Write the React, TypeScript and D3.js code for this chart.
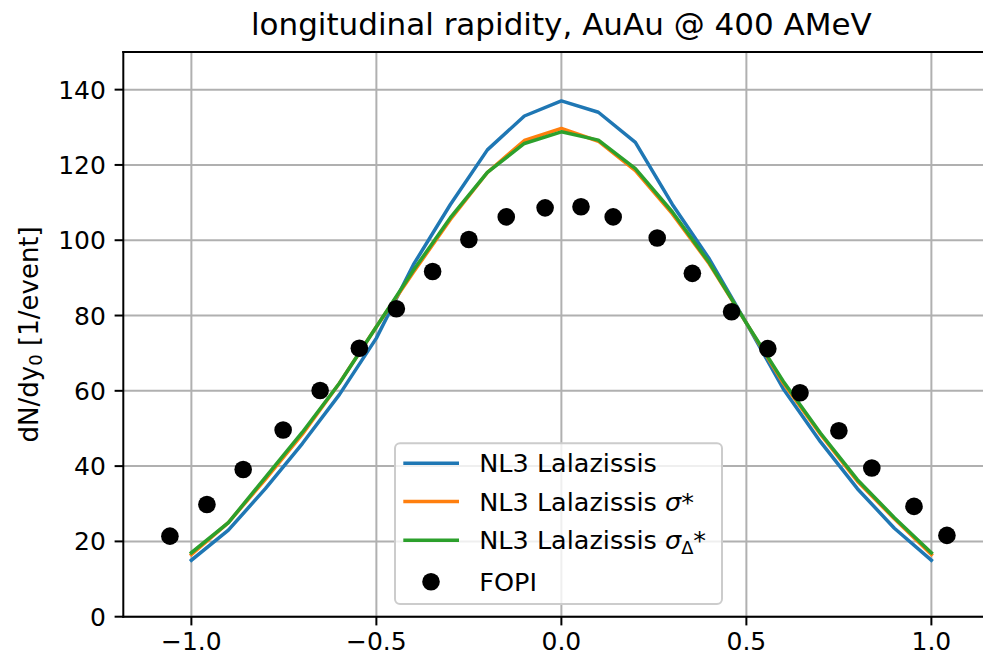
import React from "react";
import * as d3 from "d3";

const xLine = [-1.0, -0.9, -0.8, -0.7, -0.6, -0.5, -0.4, -0.3, -0.2, -0.1, 0.0, 0.1, 0.2, 0.3, 0.4, 0.5, 0.6, 0.7, 0.8, 0.9, 1.0];
const nl3 = [15, 23, 34, 46, 59, 74, 93.5, 109.5, 124, 133, 137, 134, 126, 109.5, 95, 78, 60.5, 46.5, 34, 23.5, 15];
const nl3Sigma = [16.5, 25, 36.5, 48.5, 62, 77, 91.5, 105.5, 118, 126.5, 129.7, 126.3, 118.5, 107, 93.7, 78, 62, 48.5, 36, 26, 16.5];
const nl3SigmaDelta = [17, 25, 37, 49, 62, 77, 92, 106, 118, 125.7, 128.8, 126.6, 119, 107.5, 94, 78, 62.5, 48.8, 36.4, 26.3, 17];

const fopiX = [-1.058, -0.958, -0.86, -0.752, -0.652, -0.546, -0.446, -0.348, -0.25, -0.149, -0.044, 0.053, 0.14, 0.259, 0.354, 0.46, 0.558, 0.645, 0.75, 0.839, 0.953, 1.042];
const fopiY = [21.4, 29.8, 39.1, 49.6, 60.1, 71.3, 81.8, 91.7, 100.2, 106.2, 108.6, 108.9, 106.2, 100.6, 91.2, 81.0, 71.2, 59.5, 49.4, 39.5, 29.3, 21.6];

const xTicks = [-1.0, -0.5, 0.0, 0.5, 1.0];
const yTicks = [0, 20, 40, 60, 80, 100, 120, 140];

const colors = ["#1f77b4", "#ff7f0e", "#2ca02c"];

const W = 983;
const H = 657;
const left = 123.3;
const top = 52;
const bottom = 616.7;
const xMin = -1.184;
const xMax = 1.184;
const right = left + (xMax - xMin) * 370;

const FONT = "DejaVu Sans, sans-serif";
const FS = 25;

export default function App() {
  const x = d3.scaleLinear().domain([xMin, xMax]).range([left, right]);
  const y = d3.scaleLinear().domain([0, 150]).range([bottom, top]);
  const line = d3
    .line<number>()
    .x((_, i) => x(xLine[i]))
    .y((d) => y(d));
  const fmt = d3.format(".1f");
  const series = [nl3, nl3Sigma, nl3SigmaDelta];
  const tickLen = 8.7;
  const pad = 8.7;

  const legX = 395;
  const legY = 443.3;
  const legW = 327;
  const legH = 160.7;
  const rows = [463.3, 501.5, 540.3, 581.7];
  const LFS = 25.5;

  return (
    <svg
      width={W}
      height={H}
      style={{ position: "absolute", left: 0, top: 0, background: "#fff" }}
      fontFamily={FONT}
    >
      <defs>
        <clipPath id="plotclip">
          <rect x={left} y={top} width={right - left} height={bottom - top} />
        </clipPath>
      </defs>
      <rect x={0} y={0} width={W} height={H} fill="#fff" />
      {/* grid */}
      <g stroke="#b0b0b0" strokeWidth={2}>
        {xTicks.map((t) => (
          <line key={"gx" + t} x1={x(t)} x2={x(t)} y1={top} y2={bottom} />
        ))}
        {yTicks.map((t) => (
          <line key={"gy" + t} x1={left} x2={right} y1={y(t)} y2={y(t)} />
        ))}
      </g>
      {/* lines */}
      <g clipPath="url(#plotclip)" fill="none" strokeWidth={3.5} strokeLinejoin="round" strokeLinecap="square">
        {series.map((s, i) => (
          <path key={i} d={line(s) || ""} stroke={colors[i]} />
        ))}
      </g>
      {/* scatter */}
      <g fill="#000">
        {fopiX.map((v, i) => (
          <circle key={i} cx={x(v)} cy={y(fopiY[i])} r={8.8} />
        ))}
      </g>
      {/* spines */}
      <g stroke="#000" strokeWidth={2} fill="none">
        <line x1={left} x2={left} y1={top - 1} y2={bottom + 1} />
        <line x1={left - 1} x2={right} y1={bottom} y2={bottom} />
        <line x1={left - 1} x2={right} y1={top} y2={top} />
        <line x1={right} x2={right} y1={top} y2={bottom} />
      </g>
      {/* ticks */}
      <g stroke="#000" strokeWidth={2}>
        {xTicks.map((t) => (
          <line key={"tx" + t} x1={x(t)} x2={x(t)} y1={bottom} y2={bottom + tickLen} />
        ))}
        {yTicks.map((t) => (
          <line key={"ty" + t} x1={left - tickLen} x2={left} y1={y(t)} y2={y(t)} />
        ))}
      </g>
      <g fontSize={FS} fill="#000">
        {xTicks.map((t) => (
          <text key={"lx" + t} x={x(t)} y={649.5} textAnchor="middle">
            {fmt(t).replace("-", "\u2212")}
          </text>
        ))}
        {yTicks.map((t) => (
          <text key={"ly" + t} x={left - tickLen - pad} y={y(t) + 9} textAnchor="end">
            {String(t)}
          </text>
        ))}
      </g>
      {/* y label */}
      <text
        transform={`translate(38, ${(top + bottom) / 2}) rotate(-90)`}
        textAnchor="middle"
        fontSize={26}
      >
        dN/dy
        <tspan fontSize={26 * 0.7} dy={4}>0</tspan>
        <tspan dy={-4}> [1/event]</tspan>
      </text>
      {/* title */}
      <text x={(left + right) / 2} y={35} textAnchor="middle" fontSize={31}>
        longitudinal rapidity, AuAu @ 400 AMeV
      </text>
      {/* legend */}
      <g>
        <rect
          x={legX}
          y={legY}
          width={legW}
          height={legH}
          rx={5}
          ry={5}
          fill="#fff"
          fillOpacity={0.8}
          stroke="#cccccc"
          strokeWidth={2}
        />
        {colors.map((c, i) => (
          <line key={"lh" + i} x1={403.3} x2={459} y1={rows[i]} y2={rows[i]} stroke={c} strokeWidth={3.5} />
        ))}
        <circle cx={431} cy={rows[3]} r={8.8} fill="#000" />
        <g fontSize={LFS} fill="#000">
          <text x={479.3} y={rows[0] + 9}>NL3 Lalazissis</text>
          <text x={479.3} y={rows[1] + 9}>
            NL3 Lalazissis <tspan fontStyle="italic">σ</tspan>*
          </text>
          <text x={479.3} y={rows[2] + 9}>
            NL3 Lalazissis <tspan fontStyle="italic">σ</tspan>
            <tspan fontSize={LFS * 0.7} dy={5}>Δ</tspan>
            <tspan dy={-5}>*</tspan>
          </text>
          <text x={479.3} y={rows[3] + 9}>FOPI</text>
        </g>
      </g>
    </svg>
  );
}
